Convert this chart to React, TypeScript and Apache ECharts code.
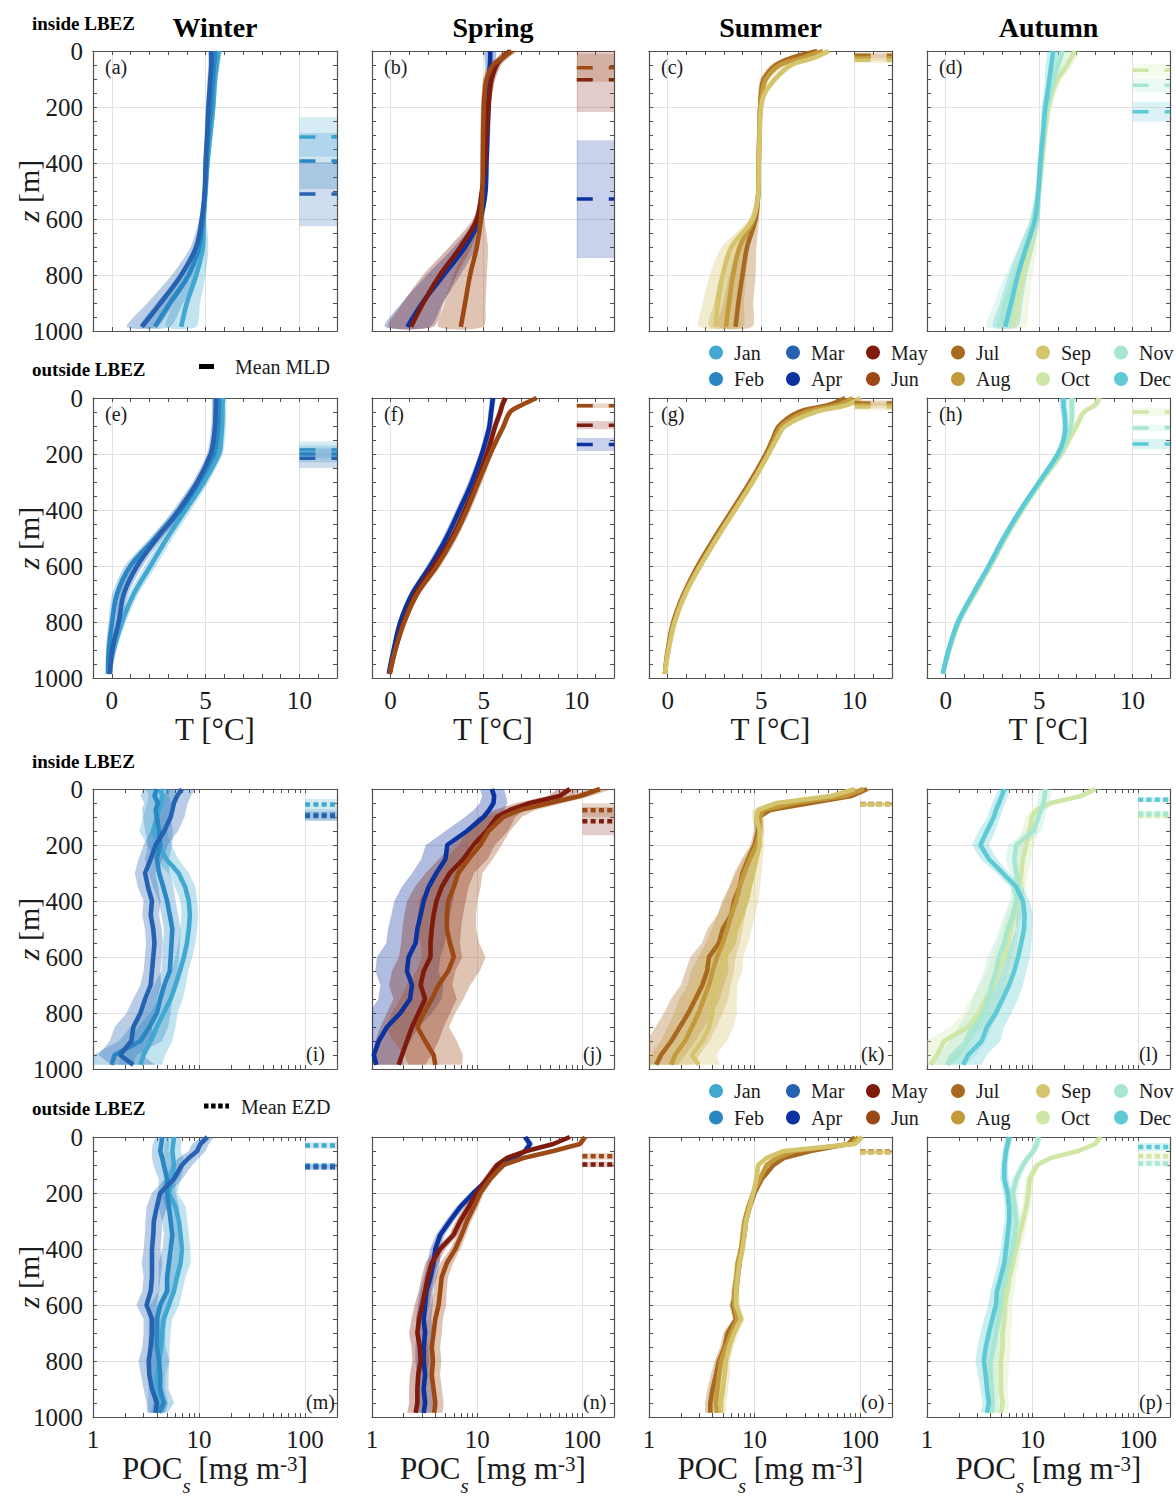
import React, { useEffect, useRef } from 'react';
import * as echarts from 'echarts';

const FONT = "'Liberation Serif', 'Times New Roman', Times, serif";
const INK = '#1b1b1b';
const AXIS_COLOR = '#505050';
const GRID_COLOR = '#e2e2e2';

const MONTH_COLORS: Record<string, string> = {
  Jan: '#42a8d1', Feb: '#2b87c3', Mar: '#2662b0', Apr: '#0b33a0',
  May: '#7e1b0c', Jun: '#9c4916', Jul: '#a86a20', Aug: '#c29a3c',
  Sep: '#d4c46b', Oct: '#cfe6a7', Nov: '#a7e6cf', Dec: '#5ecad5',
};
const SEASONS = ['Winter', 'Spring', 'Summer', 'Autumn'];
const SEASON_MONTHS = [['Jan', 'Feb', 'Mar'], ['Apr', 'May', 'Jun'], ['Jul', 'Aug', 'Sep'], ['Oct', 'Nov', 'Dec']];
const REGION_LABELS = ['inside LBEZ', 'outside LBEZ', 'inside LBEZ', 'outside LBEZ'];
const PANEL_LABELS = ['(a)', '(b)', '(c)', '(d)', '(e)', '(f)', '(g)', '(h)', '(i)', '(j)', '(k)', '(l)', '(m)', '(n)', '(o)', '(p)'];
const LEGEND_COLUMNS = [['Jan', 'Feb'], ['Mar', 'Apr'], ['May', 'Jun'], ['Jul', 'Aug'], ['Sep', 'Oct'], ['Nov', 'Dec']];

// axis ticks
const T_LABEL_TICKS = [0, 5, 10];
const T_MINOR_TICKS = [-1, 0, 1, 2, 3, 4, 5, 6, 7, 8, 9, 10, 11, 12];
const POC_LABEL_TICKS = [1, 10, 100];
const POC_MINOR_TICKS = [1, 2, 3, 4, 5, 6, 7, 8, 9, 10, 20, 30, 40, 50, 60, 70, 80, 90, 100, 200];

// depth levels (m)
const DEPTH_T = [0, 25, 50, 100, 150, 200, 300, 400, 500, 600, 700, 800, 900, 985];
const DEPTH_POC = [0, 25, 50, 75, 100, 150, 200, 250, 300, 350, 400, 450, 500, 550, 600, 650, 700, 750, 800, 850, 900, 950, 985];

// Temperature (°C), monthly mean profiles
const T_INSIDE: Record<string, number[]> = {
  Jan: [5.7, 5.65, 5.6, 5.5, 5.45, 5.4, 5.25, 5.1, 5.0, 4.9, 4.85, 4.5, 4.0, 3.7],
  Feb: [5.5, 5.5, 5.45, 5.4, 5.35, 5.3, 5.15, 5.05, 4.97, 4.85, 4.65, 4.1, 3.1, 2.3],
  Mar: [5.3, 5.3, 5.3, 5.25, 5.2, 5.15, 5.08, 5.0, 4.95, 4.8, 4.5, 3.7, 2.6, 1.6],
  Apr: [5.35, 5.35, 5.33, 5.3, 5.28, 5.25, 5.2, 5.15, 5.1, 4.8, 4.0, 2.85, 1.7, 0.9],
  May: [6.4, 6.0, 5.7, 5.43, 5.32, 5.25, 5.15, 5.07, 4.9, 4.63, 3.75, 2.65, 1.75, 1.1],
  Jun: [6.5, 6.0, 5.5, 5.16, 5.05, 5.0, 4.97, 4.95, 4.93, 4.85, 4.63, 4.27, 4.0, 3.77],
  Jul: [8.0, 6.6, 5.8, 5.15, 5.0, 4.95, 4.9, 4.87, 4.85, 4.7, 4.25, 4.0, 3.78, 3.63],
  Aug: [8.3, 7.2, 6.0, 5.25, 5.05, 4.95, 4.9, 4.87, 4.85, 4.6, 3.85, 3.5, 3.28, 3.12],
  Sep: [8.6, 7.8, 6.6, 5.75, 5.2, 5.0, 4.92, 4.88, 4.85, 4.55, 3.4, 2.95, 2.68, 2.57],
  Oct: [6.9, 6.7, 6.5, 6.0, 5.7, 5.5, 5.3, 5.15, 4.98, 4.78, 4.5, 4.14, 3.85, 3.6],
  Nov: [6.25, 6.15, 6.0, 5.8, 5.6, 5.42, 5.25, 5.1, 4.95, 4.75, 4.3, 3.7, 3.2, 2.85],
  Dec: [5.75, 5.7, 5.65, 5.55, 5.45, 5.33, 5.2, 5.06, 4.96, 4.78, 4.32, 3.86, 3.5, 3.18],
};
const T_OUTSIDE: Record<string, number[]> = {
  Jan: [5.9, 5.9, 5.9, 5.88, 5.82, 5.71, 4.91, 3.93, 2.95, 2.06, 1.17, 0.55, 0.1, -0.15],
  Feb: [5.71, 5.71, 5.7, 5.67, 5.6, 5.45, 4.65, 3.67, 2.33, 0.99, 0.28, 0.02, -0.16, -0.2],
  Mar: [5.54, 5.54, 5.53, 5.5, 5.42, 5.27, 4.56, 3.58, 2.42, 1.35, 0.64, 0.37, 0.02, -0.1],
  Apr: [5.49, 5.45, 5.4, 5.31, 5.12, 4.9, 4.37, 3.7, 2.99, 2.13, 1.15, 0.52, 0.16, -0.1],
  May: [6.16, 6.0, 5.89, 5.62, 5.4, 5.17, 4.63, 4.0, 3.29, 2.31, 1.33, 0.7, 0.25, -0.05],
  Jun: [7.85, 7.05, 6.42, 6.07, 5.7, 5.35, 4.72, 4.1, 3.38, 2.49, 1.42, 0.74, 0.25, -0.05],
  Jul: [9.5, 8.6, 7.0, 5.95, 5.6, 5.25, 4.4, 3.45, 2.5, 1.6, 0.85, 0.3, 0.0, -0.15],
  Aug: [9.9, 9.1, 7.4, 6.1, 5.7, 5.35, 4.5, 3.55, 2.6, 1.7, 0.9, 0.35, 0.02, -0.15],
  Sep: [10.3, 9.6, 7.9, 6.3, 5.8, 5.4, 4.55, 3.6, 2.65, 1.75, 0.95, 0.38, 0.05, -0.15],
  Oct: [8.2, 8.0, 7.4, 7.0, 6.6, 6.2, 5.1, 4.1, 3.2, 2.4, 1.55, 0.72, 0.2, -0.15],
  Nov: [6.75, 6.75, 6.75, 6.7, 6.45, 6.1, 5.05, 4.05, 3.15, 2.35, 1.5, 0.7, 0.18, -0.15],
  Dec: [6.3, 6.3, 6.35, 6.4, 6.3, 6.0, 5.0, 4.0, 3.1, 2.3, 1.45, 0.65, 0.15, -0.15],
};
// Temperature spread (± °C) per season panel
const T_SD_INSIDE: Record<string, number[]> = {
  Winter: [0.15, 0.15, 0.15, 0.15, 0.14, 0.14, 0.13, 0.12, 0.1, 0.15, 0.3, 0.5, 0.7, 0.8],
  Spring: [0.3, 0.3, 0.25, 0.2, 0.15, 0.15, 0.15, 0.12, 0.1, 0.2, 0.6, 0.9, 1.1, 1.2],
  Summer: [0.3, 0.35, 0.3, 0.2, 0.15, 0.12, 0.1, 0.1, 0.1, 0.2, 0.5, 0.7, 0.8, 0.9],
  Autumn: [0.3, 0.3, 0.3, 0.25, 0.2, 0.2, 0.15, 0.15, 0.15, 0.25, 0.4, 0.5, 0.6, 0.65],
};
const T_SD_OUTSIDE: Record<string, number[]> = {
  Winter: [0.2, 0.2, 0.2, 0.2, 0.2, 0.2, 0.25, 0.3, 0.3, 0.3, 0.25, 0.2, 0.15, 0.1],
  Spring: [0.15, 0.15, 0.15, 0.15, 0.15, 0.15, 0.2, 0.2, 0.2, 0.2, 0.15, 0.12, 0.1, 0.08],
  Summer: [0.2, 0.2, 0.2, 0.15, 0.12, 0.1, 0.1, 0.1, 0.1, 0.1, 0.1, 0.08, 0.06, 0.05],
  Autumn: [0.2, 0.2, 0.2, 0.15, 0.15, 0.15, 0.15, 0.15, 0.15, 0.15, 0.12, 0.1, 0.08, 0.05],
};

// POC_s (mg m^-3), monthly mean profiles
const POC_INSIDE: Record<string, number[]> = {
  Jan: [4.3, 4.5, 4.4, 4.2, 4.0, 3.7, 4.2, 4.9, 6.4, 7.4, 8.0, 8.2, 8.0, 7.7, 7.2, 6.6, 6.0, 5.4, 4.65, 4.0, 3.5, 3.0, 2.8],
  Feb: [4.0, 3.8, 4.1, 3.9, 4.0, 4.2, 4.3, 4.0, 4.2, 4.6, 5.0, 5.3, 5.6, 5.5, 5.4, 5.3, 4.7, 4.3, 4.0, 3.4, 2.8, 1.6, 1.5],
  Mar: [6.9, 6.2, 5.8, 5.6, 5.4, 4.7, 3.9, 3.5, 3.1, 3.3, 3.6, 3.5, 3.7, 3.8, 3.7, 3.6, 3.5, 3.1, 2.8, 2.4, 2.3, 1.8, 2.4],
  Apr: [13.8, 14.5, 14.3, 13.0, 11.5, 8.0, 5.2, 5.0, 4.1, 3.45, 3.1, 2.9, 2.7, 2.6, 2.23, 2.15, 2.4, 2.3, 1.86, 1.39, 1.16, 1.04, 1.1],
  May: [76, 61, 31.9, 20.5, 15.4, 12.3, 9.2, 7.4, 5.5, 4.6, 4.1, 3.85, 3.7, 3.6, 3.6, 3.1, 2.9, 3.2, 2.77, 2.4, 2.15, 1.93, 1.79],
  Jun: [147, 95, 49, 25.6, 17.7, 12.8, 10.7, 8.3, 6.6, 6.0, 5.3, 5.15, 5.15, 5.5, 6.0, 5.3, 4.3, 3.7, 3.1, 2.7, 3.2, 3.85, 4.0],
  Jul: [116, 83, 34, 14, 10.8, 10.8, 10.0, 8.7, 7.7, 7.2, 6.4, 6.0, 5.0, 4.6, 3.7, 3.55, 3.2, 2.75, 2.36, 1.96, 1.63, 1.3, 1.17],
  Aug: [108, 71, 23.5, 12.1, 11.2, 11.2, 10.4, 9.0, 8.0, 7.2, 6.7, 6.0, 5.5, 5.0, 4.4, 4.0, 3.7, 3.3, 2.95, 2.55, 2.2, 1.76, 1.63],
  Sep: [89, 53, 16.2, 10.8, 10.4, 11.2, 11.2, 10.4, 9.7, 9.0, 8.4, 7.5, 6.7, 6.0, 5.2, 4.8, 4.3, 4.0, 4.0, 3.7, 3.2, 2.55, 2.95],
  Oct: [39, 29, 14.8, 11, 9.8, 9.4, 8.7, 8.1, 7.8, 7.5, 7.3, 6.7, 6.2, 5.8, 5.4, 4.8, 4.3, 3.6, 3.1, 2.45, 1.45, 1.25, 1.08],
  Nov: [13.2, 13.0, 12.7, 12.0, 11.4, 10.2, 7.0, 6.7, 7.0, 7.3, 7.0, 6.5, 5.8, 5.4, 4.8, 4.5, 4.1, 3.8, 3.4, 2.85, 2.45, 1.96, 1.57],
  Dec: [5.4, 5.1, 4.8, 4.5, 4.3, 3.7, 3.2, 3.85, 5.2, 7.0, 8.1, 8.4, 8.3, 7.8, 7.3, 6.7, 6.0, 5.2, 4.5, 3.7, 3.3, 2.45, 2.2],
};
const POC_OUTSIDE: Record<string, number[]> = {
  Jan: [5.8, 5.7, 5.6, 5.7, 5.8, 5.6, 5.2, 6.0, 6.45, 6.7, 6.9, 6.7, 6.2, 5.8, 5.2, 4.65, 4.5, 4.4, 4.2, 4.0, 4.0, 4.1, 4.0],
  Feb: [4.5, 4.4, 4.3, 4.5, 4.65, 5.0, 5.0, 5.2, 5.4, 5.6, 5.4, 5.2, 5.0, 5.0, 4.3, 4.0, 4.0, 4.0, 4.2, 4.3, 4.3, 4.65, 4.2],
  Mar: [12, 10.3, 9.6, 8.0, 6.9, 5.8, 4.3, 4.0, 3.75, 3.7, 3.6, 3.6, 3.6, 3.5, 3.2, 3.6, 3.6, 3.5, 3.35, 3.4, 3.6, 4.0, 3.9],
  Apr: [28.6, 31.8, 28.6, 22.2, 17.7, 12.8, 9.2, 6.9, 5.5, 4.45, 4.0, 3.85, 3.6, 3.3, 3.2, 3.1, 3.2, 3.1, 3.1, 3.2, 3.1, 3.2, 3.1],
  May: [76, 53, 29.5, 19.1, 15.4, 12.3, 9.9, 8.3, 6.9, 5.95, 4.45, 3.7, 3.4, 3.2, 3.0, 2.8, 2.7, 2.85, 2.9, 2.75, 2.7, 2.7, 2.6],
  Jun: [106, 95, 53, 27.5, 17.7, 13.3, 10.7, 9.3, 8.0, 7.1, 6.2, 5.15, 4.6, 4.45, 4.3, 4.0, 3.85, 3.7, 3.8, 3.7, 3.85, 4.0, 3.9],
  Jul: [89, 77, 34, 18.9, 15.1, 11.7, 10.0, 9.0, 8.3, 8.0, 7.45, 7.2, 6.9, 6.7, 6.2, 6.7, 5.55, 5.2, 4.6, 4.3, 4.0, 3.8, 3.8],
  Aug: [96, 83, 23.5, 16.2, 13, 11.2, 9.7, 8.7, 8.0, 7.7, 7.45, 6.9, 6.7, 6.4, 6.4, 6.9, 6.0, 5.35, 4.8, 4.6, 4.45, 4.3, 4.45],
  Sep: [104, 89, 18.9, 13, 10.8, 10.4, 9.7, 9.0, 8.3, 8.0, 7.7, 7.2, 6.9, 6.7, 6.7, 7.45, 6.4, 5.75, 5.35, 5.2, 5.0, 4.8, 4.8],
  Oct: [43.8, 39, 27, 14.8, 11, 9.4, 9.1, 8.7, 8.1, 7.5, 7.0, 6.5, 6.0, 5.8, 5.4, 5.4, 5.2, 5.2, 5.0, 5.0, 5.0, 5.2, 5.0],
  Nov: [11.4, 11.0, 10.2, 9.0, 8.1, 7.0, 6.5, 6.8, 7.0, 6.8, 6.5, 6.0, 5.6, 5.2, 5.0, 4.8, 4.5, 4.3, 4.0, 4.0, 4.15, 4.15, 4.15],
  Dec: [6.0, 5.8, 5.6, 5.5, 5.4, 5.4, 5.8, 6.0, 6.0, 5.8, 5.6, 5.4, 5.0, 4.6, 4.5, 4.15, 3.85, 3.6, 3.45, 3.6, 3.7, 3.85, 3.7],
};
// POC spread (multiplicative factor) per season panel
const POC_F_INSIDE: Record<string, number[]> = {
  Winter: [1.35, 1.35, 1.35, 1.35, 1.35, 1.35, 1.3, 1.3, 1.25, 1.25, 1.2, 1.2, 1.2, 1.2, 1.2, 1.2, 1.25, 1.3, 1.35, 1.5, 1.6, 1.6, 1.6],
  Spring: [1.3, 1.3, 1.35, 1.4, 1.5, 1.6, 1.6, 1.7, 1.7, 1.8, 1.9, 1.9, 1.9, 1.9, 2.0, 2.0, 2.0, 2.0, 2.0, 2.0, 2.0, 1.9, 1.8],
  Summer: [1.15, 1.15, 1.2, 1.15, 1.1, 1.1, 1.1, 1.15, 1.2, 1.25, 1.3, 1.35, 1.4, 1.45, 1.5, 1.6, 1.6, 1.7, 1.7, 1.7, 1.7, 1.7, 1.6],
  Autumn: [1.15, 1.15, 1.15, 1.15, 1.15, 1.2, 1.2, 1.2, 1.15, 1.15, 1.15, 1.2, 1.2, 1.25, 1.3, 1.3, 1.35, 1.4, 1.4, 1.45, 1.5, 1.5, 1.5],
};
const POC_F_OUTSIDE: Record<string, number[]> = {
  Winter: [1.15, 1.2, 1.2, 1.25, 1.25, 1.2, 1.2, 1.25, 1.2, 1.2, 1.2, 1.25, 1.2, 1.2, 1.25, 1.2, 1.2, 1.2, 1.25, 1.2, 1.2, 1.25, 1.2],
  Spring: [1.08, 1.08, 1.08, 1.08, 1.08, 1.08, 1.08, 1.1, 1.1, 1.1, 1.12, 1.15, 1.15, 1.15, 1.18, 1.18, 1.2, 1.2, 1.2, 1.2, 1.2, 1.2, 1.2],
  Summer: [1.05, 1.05, 1.05, 1.05, 1.05, 1.05, 1.05, 1.05, 1.05, 1.05, 1.06, 1.06, 1.06, 1.06, 1.08, 1.08, 1.1, 1.1, 1.1, 1.12, 1.12, 1.12, 1.12],
  Autumn: [1.08, 1.08, 1.08, 1.08, 1.08, 1.1, 1.1, 1.1, 1.1, 1.12, 1.12, 1.15, 1.15, 1.15, 1.18, 1.2, 1.2, 1.2, 1.2, 1.18, 1.15, 1.15, 1.15],
};

// Mean mixed-layer depth and euphotic-zone depth: [mean, spread] (m)
const MLD_INSIDE: Record<string, number[]> = {
  Jan: [307, 70], Feb: [393, 100], Mar: [511, 115], Apr: [529, 210], May: [103, 115], Jun: [60, 50],
  Jul: [15, 10], Aug: [24, 12], Sep: [33, 10], Oct: [69, 22], Nov: [122, 25], Dec: [217, 36],
};
const MLD_OUTSIDE: Record<string, number[]> = {
  Jan: [185, 30], Feb: [200, 30], Mar: [215, 35], Apr: [166, 23], May: [97, 15], Jun: [28, 8],
  Jul: [18, 10], Aug: [25, 12], Sep: [32, 12], Oct: [50, 15], Nov: [107, 12], Dec: [164, 18],
};
const EZD_INSIDE: Record<string, number[]> = {
  Jan: [55, 20], Feb: [92, 20], Mar: [96, 18], May: [115, 50], Jun: [76, 25],
  Jul: [54, 6], Aug: [55, 6], Sep: [56, 6], Oct: [95, 12], Nov: [88, 12], Dec: [38, 10],
};
const EZD_OUTSIDE: Record<string, number[]> = {
  Jan: [30, 12], Feb: [103, 10], Mar: [108, 10], May: [98, 10], Jun: [69, 12],
  Jul: [52, 6], Aug: [54, 6], Sep: [56, 6], Oct: [69, 15], Nov: [95, 12], Dec: [36, 15],
};

// layout
const COL_LEFT = [93, 372, 649, 927];
const COL_WIDTH = [244, 242, 243, 243];
const ROW_TOP = [51, 398, 789, 1137];
const ROW_HEIGHT = 280;
const T_RANGE = [-1, 12];
const POC_RANGE = [1, 200];
const MLD_X = [10, 12];
const EZD_X = [100, 200];
const LEGEND_LEFT = [709, 786, 866, 951, 1036, 1114];
const LEGEND_TOP = [342.5, 1081];

function rgba(hex: string, a: number) {
  const n = parseInt(hex.slice(1), 16);
  return `rgba(${(n >> 16) & 255},${(n >> 8) & 255},${n & 255},${a})`;
}

const plainNumber = (v: number) => String(v);

function buildOption() {
  const grid: any[] = [];
  const xAxis: any[] = [];
  const yAxis: any[] = [];
  const bandSeries: any[] = [];
  const lineSeries: any[] = [];
  const markSeries: any[] = [];
  const graphic: any[] = [];
  const lineStyleAxis = { color: AXIS_COLOR, width: 1.2 };
  const tickStyle = { color: AXIS_COLOR, width: 1 };

  for (let r = 0; r < 4; r++) {
    for (let c = 0; c < 4; c++) {
      const p = r * 4 + c;
      const isT = r < 2;
      const inside = r % 2 === 0;
      const season = SEASONS[c];
      const months = SEASON_MONTHS[c];
      const left = COL_LEFT[c];
      const top = ROW_TOP[r];
      const width = COL_WIDTH[c];
      grid.push({ left, top, width, height: ROW_HEIGHT, containLabel: false, outerBoundsMode: 'none' });

      const base: any = isT
        ? { type: 'value', min: T_RANGE[0], max: T_RANGE[1] }
        : { type: 'log', logBase: 10, min: POC_RANGE[0], max: POC_RANGE[1] };
      const minor = isT ? T_MINOR_TICKS : POC_MINOR_TICKS;
      const major = isT ? T_LABEL_TICKS : POC_LABEL_TICKS;
      const xi = xAxis.length;
      xAxis.push({
        ...base, gridIndex: p, position: 'bottom',
        axisLine: { show: true, onZero: false, lineStyle: lineStyleAxis },
        axisTick: { show: true, inside: true, length: 4, customValues: minor, lineStyle: tickStyle },
        axisLabel: { show: false }, splitLine: { show: false },
      });
      xAxis.push({
        ...base, gridIndex: p, position: 'top',
        axisLine: { show: true, onZero: false, lineStyle: lineStyleAxis },
        axisTick: { show: true, inside: true, length: 4, customValues: minor, lineStyle: tickStyle },
        axisLabel: { show: false }, splitLine: { show: false },
      });
      const showX = r === 1 || r === 3;
      xAxis.push({
        ...base, gridIndex: p, position: 'bottom',
        axisLine: { show: false, onZero: false },
        axisTick: { show: false, customValues: major },
        axisLabel: { show: showX, customValues: major, formatter: plainNumber, fontSize: 25, fontFamily: FONT, color: INK, margin: 10 },
        splitLine: { show: true, lineStyle: { color: GRID_COLOR, width: 1 } },
        name: showX ? (isT ? '{m|T [°C]}' : '{m|POC}{sub|s}{m| [mg m}{sup|-3}{m|]}') : '',
        nameLocation: 'middle',
        nameGap: isT ? 36 : 36,
        nameMoveOverlap: false,
        nameTextStyle: {
          fontSize: 31, fontFamily: FONT, color: INK,
          rich: {
            m: { fontSize: 31, fontFamily: FONT, color: INK, verticalAlign: 'top' },
            sub: { fontSize: 21, fontFamily: FONT, fontStyle: 'italic', color: INK, verticalAlign: 'top', padding: [22, 0, 0, 0] },
            sup: { fontSize: 21, fontFamily: FONT, color: INK, verticalAlign: 'top' },
          },
        },
      });

      const yi = yAxis.length;
      const yBase: any = { type: 'value', gridIndex: p, inverse: true, min: 0, max: 1000, interval: 200 };
      yAxis.push({
        ...yBase, position: 'left',
        axisLine: { show: true, onZero: false, lineStyle: lineStyleAxis },
        axisTick: { show: true, inside: true, length: 4, lineStyle: tickStyle },
        minorTick: { show: true, splitNumber: 4, length: 4, lineStyle: tickStyle },
        splitLine: { show: true, lineStyle: { color: GRID_COLOR, width: 1 } },
        axisLabel: { show: c === 0, formatter: plainNumber, fontSize: 25, fontFamily: FONT, color: INK, margin: 10, showMinLabel: true, showMaxLabel: true },
        name: c === 0 ? '{it|z} [m]' : '',
        nameLocation: 'middle',
        nameGap: 50,
        nameRotate: 90,
        nameMoveOverlap: false,
        nameTextStyle: {
          fontSize: 30, fontFamily: FONT, color: INK,
          rich: { it: { fontSize: 30, fontFamily: FONT, fontStyle: 'italic', color: INK } },
        },
      });
      yAxis.push({
        ...yBase, position: 'right',
        axisLine: { show: true, onZero: false, lineStyle: lineStyleAxis },
        axisTick: { show: true, inside: true, length: 4, lineStyle: tickStyle },
        minorTick: { show: true, splitNumber: 4, length: 4, lineStyle: tickStyle },
        splitLine: { show: false },
        axisLabel: { show: false },
      });

      const depth = isT ? DEPTH_T : DEPTH_POC;
      const valsRec = isT ? (inside ? T_INSIDE : T_OUTSIDE) : (inside ? POC_INSIDE : POC_OUTSIDE);
      const spread = (isT ? (inside ? T_SD_INSIDE : T_SD_OUTSIDE) : (inside ? POC_F_INSIDE : POC_F_OUTSIDE))[season];

      months.forEach((m) => {
        const vals = valsRec[m];
        const color = MONTH_COLORS[m];
        const rows = depth.map((d, i) =>
          isT ? [vals[i] - spread[i], vals[i] + spread[i], d] : [vals[i] / spread[i], vals[i] * spread[i], d]
        );
        bandSeries.push({
          type: 'custom', name: m + ' range', xAxisIndex: xi, yAxisIndex: yi,
          clip: true, silent: true, z: 1, data: rows, encode: { x: [0, 1], y: 2 },
          renderItem: (params: any, api: any) => {
            if (params.dataIndex !== 0) return null;
            const leftEdge = rows.map((row) => api.coord([row[0], row[2]]));
            const rightEdge = rows.map((row) => api.coord([row[1], row[2]])).reverse();
            return {
              type: 'polygon',
              shape: { points: leftEdge.concat(rightEdge), smooth: isT ? 0.25 : 0 },
              style: { fill: rgba(color, 0.32) },
            };
          },
        });
        lineSeries.push({
          type: 'line', name: m, xAxisIndex: xi, yAxisIndex: yi,
          data: depth.map((d, i) => [vals[i], d]),
          smooth: isT ? 0.35 : false, showSymbol: false, symbol: 'none', silent: true, z: 2,
          lineStyle: { width: 4.6, color }, itemStyle: { color },
        });
      });

      const markRec = isT ? (inside ? MLD_INSIDE : MLD_OUTSIDE) : (inside ? EZD_INSIDE : EZD_OUTSIDE);
      const marks = months.filter((m) => markRec[m]).map((m) => ({ m, v: markRec[m] }));
      const xr = isT ? MLD_X : EZD_X;
      markSeries.push({
        type: 'custom', name: 'depth marks', xAxisIndex: xi, yAxisIndex: yi,
        clip: true, silent: true, z: 3,
        data: marks.map((k) => [k.v[0], k.v[1]]),
        renderItem: (params: any, api: any) => {
          const k = marks[params.dataIndex];
          const col = MONTH_COLORS[k.m];
          const mean = k.v[0];
          const sd = k.v[1];
          const a = api.coord([xr[0], Math.max(0, mean - sd)]);
          const b = api.coord([xr[1], mean + sd]);
          const l1 = api.coord([xr[0], mean]);
          const l2 = api.coord([xr[1], mean]);
          return {
            type: 'group',
            children: [
              { type: 'rect', shape: { x: a[0], y: a[1], width: b[0] - a[0], height: b[1] - a[1] }, style: { fill: rgba(col, 0.22) } },
              {
                type: 'line', shape: { x1: l1[0], y1: l1[1], x2: l2[0], y2: l2[1] },
                style: { stroke: col, lineWidth: isT ? 3.5 : 4.5, lineDash: isT ? [16, 16] : [5, 3.3] },
              },
            ],
          };
        },
      });

      // panel letters
      if (r < 2) {
        graphic.push({
          type: 'text', x: left + 12, y: top + 16, z: 100,
          style: { text: PANEL_LABELS[p], fontSize: 20, fontFamily: FONT, fill: INK, align: 'left', verticalAlign: 'middle' },
        });
      } else {
        graphic.push({
          type: 'text', x: left + width - 31, y: top + ROW_HEIGHT - 15, z: 100,
          style: { text: PANEL_LABELS[p], fontSize: 20, fontFamily: FONT, fill: INK, align: 'left', verticalAlign: 'middle' },
        });
      }
      if (r === 0) {
        graphic.push({
          type: 'text', x: left + width / 2, y: 27, z: 100,
          style: { text: season, fontSize: 28, fontWeight: 'bold', fontFamily: FONT, fill: '#000', align: 'center', verticalAlign: 'middle' },
        });
      }
    }
  }

  const REGION_Y = [23, 369, 761, 1108];
  REGION_LABELS.forEach((t, i) => {
    graphic.push({
      type: 'text', x: 32, y: REGION_Y[i], z: 100,
      style: { text: t, fontSize: 19, fontWeight: 'bold', fontFamily: FONT, fill: '#000', align: 'left', verticalAlign: 'middle' },
    });
  });
  graphic.push({ type: 'rect', z: 100, shape: { x: 199, y: 364, width: 15, height: 5 }, style: { fill: '#000' } });
  graphic.push({
    type: 'text', x: 235, y: 367, z: 100,
    style: { text: 'Mean MLD', fontSize: 20, fontFamily: FONT, fill: INK, align: 'left', verticalAlign: 'middle' },
  });
  graphic.push({
    type: 'line', z: 100, shape: { x1: 204, y1: 1106, x2: 229, y2: 1106 },
    style: { stroke: '#000', lineWidth: 5, lineDash: [4.5, 2.6] },
  });
  graphic.push({
    type: 'text', x: 241, y: 1107, z: 100,
    style: { text: 'Mean EZD', fontSize: 20, fontFamily: FONT, fill: INK, align: 'left', verticalAlign: 'middle' },
  });

  const legend: any[] = [];
  LEGEND_TOP.forEach((topY) => {
    LEGEND_COLUMNS.forEach((names, i) => {
      legend.push({
        orient: 'vertical', left: LEGEND_LEFT[i], top: topY, padding: 0,
        itemWidth: 14, itemHeight: 14, itemGap: 6.5, icon: 'circle', selectedMode: false,
        data: names,
        textStyle: { fontSize: 20, fontFamily: FONT, color: INK, lineHeight: 20, padding: [0, 0, 0, 6] },
      });
    });
  });

  return {
    animation: false,
    backgroundColor: '#ffffff',
    textStyle: { fontFamily: FONT },
    grid, xAxis, yAxis, legend, graphic,
    series: [...bandSeries, ...lineSeries, ...markSeries],
  };
}

export default function App() {
  const ref = useRef<HTMLDivElement>(null);
  useEffect(() => {
    if (!ref.current) return;
    const chart = echarts.init(ref.current, undefined, { renderer: 'svg' });
    chart.setOption(buildOption() as any);
    return () => chart.dispose();
  }, []);
  return <div ref={ref} style={{ position: 'absolute', left: 0, top: 0, width: 1176, height: 1496, background: '#fff' }} />;
}
